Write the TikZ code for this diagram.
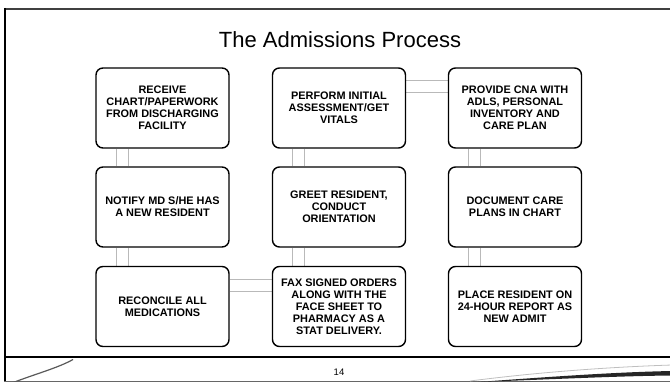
\documentclass[tikz,border=0pt]{standalone}
\usepackage{fontspec}
\setmainfont{Liberation Sans}
\usetikzlibrary{backgrounds}
\begin{document}
\begin{tikzpicture}[x=1pt,y=-1pt,
  stepbox/.style={draw=black, line width=1.4pt, rounded corners=7pt,
    minimum width=133pt, minimum height=80pt, align=center,
    font=\fontsize{10.9}{12}\selectfont\bfseries, inner sep=2pt},
  link/.style={draw=gray!55, line width=1pt, double=white, double distance=11pt}]
\useasboundingbox (0,0) rectangle (670,382);

% slide frame
\draw[line width=2pt, black!75] (5,9) -- (672,9);
\draw[line width=2pt, black] (5,8) -- (5,383);
\draw[line width=2pt, black] (4,357) -- (672,357);
\draw[line width=0.8pt, black!60] (4,381.5) -- (672,381.5);

% footer swooshes
\draw[line width=1.2pt, black!65] (12,383) .. controls (35,374) and (58,368) .. (73,359.5);
\draw[line width=0.8pt, black!25] (470,381) .. controls (540,372) and (610,367) .. (672,365);
\fill[black!85] (478,382) .. controls (560,376) and (620,372) .. (672,371)
  -- (672,375.5) .. controls (620,376) and (560,379) .. (478,382) -- cycle;

% title and page number
\node[anchor=base, font=\fontsize{22}{26}\selectfont] (title) at (340,48) {The Admissions Process};
\node[anchor=base, font=\fontsize{9.5}{11}\selectfont] (page) at (339,376) {14};

% process steps
\node[stepbox] (s1) at (162.5,108) {RECEIVE\\CHART/PAPERWORK\\FROM DISCHARGING\\FACILITY};
\node[stepbox] (s2) at (162.5,207) {NOTIFY MD S/HE HAS\\A NEW RESIDENT};
\node[stepbox] (s3) at (162.5,306.5) {RECONCILE ALL\\MEDICATIONS};
\node[stepbox] (s4) at (339,306.5) {FAX SIGNED ORDERS\\ALONG WITH THE\\FACE SHEET TO\\PHARMACY AS A\\STAT DELIVERY.};
\node[stepbox] (s5) at (339,207) {GREET RESIDENT,\\CONDUCT\\ORIENTATION};
\node[stepbox] (s6) at (339,108) {PERFORM INITIAL\\ASSESSMENT/GET\\VITALS};
\node[stepbox] (s7) at (515,108) {PROVIDE CNA WITH\\ADLS, PERSONAL\\INVENTORY AND\\CARE PLAN};
\node[stepbox] (s8) at (515,207) {DOCUMENT CARE\\PLANS IN CHART};
\node[stepbox] (s9) at (515,306.5) {PLACE RESIDENT ON\\24-HOUR REPORT AS\\NEW ADMIT};

% connectors between steps, kept behind the boxes
\begin{scope}[on background layer]
\path[link] ([xshift=27pt]s1.south west) -- ([xshift=27pt]s2.north west);
\path[link] ([xshift=27pt]s2.south west) -- ([xshift=27pt]s3.north west);
\path[link] ([yshift=-20pt]s3.north east) -- ([yshift=-20pt]s4.north west);
\path[link] ([xshift=27pt]s4.north west) -- ([xshift=27pt]s5.south west);
\path[link] ([xshift=27pt]s5.north west) -- ([xshift=27pt]s6.south west);
\path[link] ([yshift=-19pt]s6.north east) -- ([yshift=-19pt]s7.north west);
\path[link] ([xshift=27pt]s7.south west) -- ([xshift=27pt]s8.north west);
\path[link] ([xshift=27pt]s8.south west) -- ([xshift=27pt]s9.north west);
\end{scope}
\end{tikzpicture}
\end{document}
